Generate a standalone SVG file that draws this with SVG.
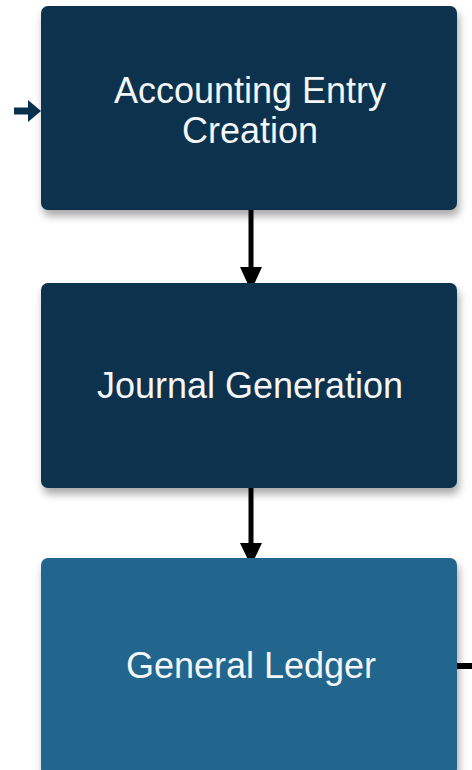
<svg xmlns="http://www.w3.org/2000/svg" width="472" height="770" viewBox="0 0 472 770">
  <defs>
    <filter id="sh" x="-10%" y="-10%" width="125%" height="130%">
      <feGaussianBlur in="SourceAlpha" stdDeviation="4"/>
      <feOffset dx="2" dy="6" result="b"/>
      <feComponentTransfer><feFuncA type="linear" slope="0.35"/></feComponentTransfer>
      <feMerge><feMergeNode/><feMergeNode in="SourceGraphic"/></feMerge>
    </filter>
  </defs>
  <style>
    .dark { fill: #09304d; }
    .light { fill: #23668d; }
    .lbl { font-family: "Liberation Sans", Arial, sans-serif; font-size: 36px; fill: #f4f6f8; text-anchor: middle; }
    .conn { stroke: #000; stroke-width: 5; fill: none; }
    .head { fill: #000; }
  </style>
  <rect width="472" height="770" fill="#ffffff"/>
  <g id="connectors">
    <path d="M14,111 L30,111" stroke="#09304d" stroke-width="7" fill="none"/>
    <path d="M28,100 L41,111 L28,122 Z" fill="#09304d"/>
    <path class="conn" d="M251,205 L251,268"/>
    <path class="head" d="M240,267 L251,291 L262,267 Z"/>
    <path class="conn" d="M251,482 L251,544"/>
    <path class="head" d="M240,543 L251,566 L262,543 Z"/>
    <path d="M450,666 L472,666" stroke="#000" stroke-width="6" fill="none"/>
  </g>
  <g id="node-accounting-entry-creation">
    <rect class="dark" x="41" y="6" width="416" height="204" rx="7" filter="url(#sh)"/>
    <text class="lbl" x="250" y="103">Accounting Entry</text>
    <text class="lbl" x="250" y="143">Creation</text>
  </g>
  <g id="node-journal-generation">
    <rect class="dark" x="41" y="283" width="416" height="205" rx="7" filter="url(#sh)"/>
    <text class="lbl" x="250" y="398">Journal Generation</text>
  </g>
  <g id="node-general-ledger">
    <rect class="light" x="41" y="558" width="416" height="218" rx="7" filter="url(#sh)"/>
    <text class="lbl" x="251" y="678">General Ledger</text>
  </g>
</svg>
